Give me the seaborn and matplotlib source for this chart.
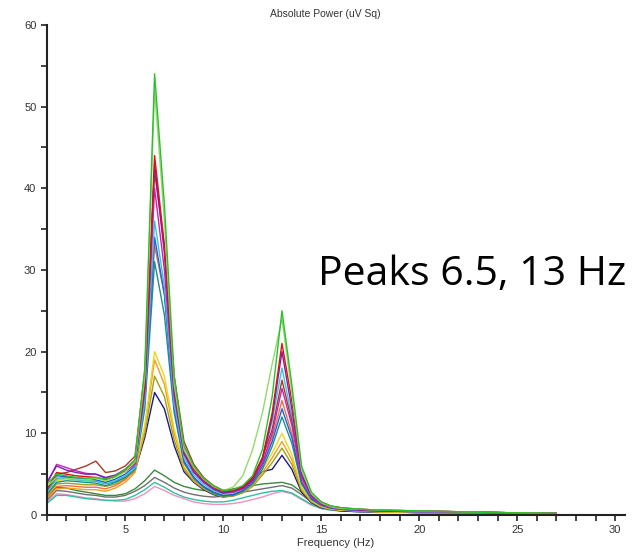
######################## EEG absolute power spectrum ########################

import matplotlib
matplotlib.use("Agg")
import matplotlib.pyplot as plt
from matplotlib.ticker import MultipleLocator
import pandas as pd
import seaborn as sns

####################### data #################################################

freq = [1, 1.5, 2, 2.5, 3, 3.5, 4, 4.5, 5, 5.5, 6, 6.5, 7, 7.5, 8, 8.5, 9, 9.5,
        10, 10.5, 11, 11.5, 12, 12.5, 13, 13.5, 14, 14.5, 15, 15.5, 16, 17, 18,
        20, 22, 24, 27]

ch01 = [3.8, 5.0, 4.8, 4.6, 4.5, 4.6, 4.4, 4.8, 5.6, 6.8, 18.0, 54.0, 38.0, 17.0, 8.5, 6.0, 4.5, 3.6,
        3.0, 3.1, 3.6, 4.8, 8.0, 14.5, 25.0, 16.0, 6.0, 2.8, 1.6, 1.1, 0.9, 0.7, 0.6, 0.5, 0.4, 0.3, 0.2]
ch02 = [3.5, 4.6, 4.5, 4.4, 4.3, 4.5, 4.2, 4.6, 5.3, 6.5, 17.0, 52.0, 36.0, 16.0, 8.0, 5.8, 4.4, 3.5,
        3.0, 3.4, 4.8, 8.0, 12.5, 18.5, 24.0, 15.0, 5.5, 2.6, 1.5, 1.0, 0.8, 0.7, 0.6, 0.5, 0.4, 0.3, 0.2]
ch03 = [3.2, 5.2, 5.0, 4.8, 4.7, 4.6, 4.3, 4.7, 5.4, 6.4, 16.0, 44.0, 33.0, 15.5, 8.0, 5.6, 4.3, 3.4,
        2.9, 3.0, 3.4, 4.5, 7.0, 12.5, 21.0, 14.0, 5.5, 2.6, 1.6, 1.1, 0.9, 0.7, 0.6, 0.5, 0.4, 0.3, 0.2]
ch04 = [4.0, 6.0, 5.5, 5.2, 5.0, 5.0, 4.6, 4.9, 5.6, 6.6, 15.5, 43.0, 32.0, 15.0, 7.6, 5.3, 4.1, 3.2,
        2.7, 2.9, 3.3, 4.3, 6.8, 12.0, 20.0, 13.0, 5.0, 2.4, 1.4, 1.0, 0.8, 0.6, 0.5, 0.5, 0.4, 0.3, 0.2]
ch05 = [3.8, 6.2, 5.8, 5.4, 5.1, 5.0, 4.5, 4.8, 5.3, 6.2, 15.0, 40.0, 30.0, 14.5, 7.4, 5.2, 4.0, 3.2,
        2.7, 2.8, 3.2, 4.2, 6.3, 10.0, 15.5, 11.0, 4.6, 2.2, 1.3, 0.9, 0.7, 0.6, 0.5, 0.4, 0.4, 0.3, 0.2]
ch06 = [3.0, 5.0, 5.2, 5.6, 6.0, 6.6, 5.2, 5.4, 6.0, 7.2, 17.5, 42.0, 33.0, 17.0, 9.0, 6.2, 4.6, 3.6,
        3.0, 3.1, 3.5, 4.6, 7.0, 10.5, 16.5, 11.5, 4.8, 2.4, 1.5, 1.0, 0.8, 0.7, 0.6, 0.5, 0.4, 0.3, 0.2]
ch07 = [2.8, 4.4, 4.5, 4.3, 4.2, 4.1, 3.8, 4.2, 4.8, 5.8, 14.0, 36.0, 28.0, 13.5, 7.0, 4.9, 3.8, 3.0,
        2.6, 2.7, 3.2, 4.3, 6.8, 11.5, 18.0, 12.0, 4.8, 2.3, 1.4, 1.0, 0.8, 0.6, 0.5, 0.4, 0.3, 0.3, 0.2]
ch08 = [3.0, 4.8, 4.7, 4.5, 4.4, 4.3, 4.0, 4.4, 5.0, 6.0, 14.0, 34.0, 27.0, 13.0, 6.6, 4.6, 3.5, 2.8,
        2.4, 2.5, 3.0, 4.0, 6.0, 9.0, 13.0, 9.5, 4.0, 2.0, 1.2, 0.9, 0.7, 0.6, 0.5, 0.4, 0.3, 0.3, 0.2]
ch09 = [2.5, 4.0, 4.2, 4.1, 4.0, 3.9, 3.6, 4.0, 4.6, 5.6, 13.0, 31.0, 24.5, 12.5, 6.4, 4.5, 3.4, 2.7,
        2.3, 2.4, 2.9, 3.8, 5.6, 8.4, 12.0, 8.8, 3.8, 1.9, 1.2, 0.8, 0.7, 0.5, 0.5, 0.4, 0.3, 0.2, 0.2]
ch10 = [2.2, 3.5, 3.6, 3.5, 3.4, 3.4, 3.2, 3.6, 4.3, 5.6, 14.0, 33.0, 27.0, 14.5, 7.8, 5.5, 4.2, 3.3,
        2.8, 2.9, 3.3, 4.4, 6.4, 9.5, 14.0, 10.0, 4.3, 2.1, 1.3, 0.9, 0.7, 0.6, 0.5, 0.4, 0.3, 0.3, 0.2]
ch11 = [2.6, 4.2, 4.4, 4.3, 4.2, 4.2, 3.9, 4.2, 4.8, 5.8, 11.0, 20.0, 17.0, 10.5, 6.2, 4.5, 3.5, 2.9,
        2.5, 2.6, 3.1, 4.0, 5.6, 7.6, 10.0, 7.4, 3.4, 1.8, 1.1, 0.8, 0.6, 0.5, 0.4, 0.4, 0.3, 0.2, 0.2]
ch12 = [2.0, 3.2, 3.3, 3.2, 3.1, 3.1, 2.9, 3.3, 4.0, 5.2, 10.5, 19.0, 16.0, 10.0, 5.8, 4.3, 3.3, 2.7,
        2.3, 2.4, 2.9, 3.7, 5.2, 7.0, 9.0, 6.8, 3.2, 1.7, 1.0, 0.7, 0.6, 0.5, 0.4, 0.3, 0.3, 0.2, 0.2]
ch13 = [2.4, 3.8, 3.9, 3.8, 3.7, 3.7, 3.5, 3.8, 4.4, 5.4, 10.0, 17.0, 14.5, 9.2, 5.6, 4.1, 3.2, 2.6,
        2.2, 2.3, 2.7, 3.5, 4.9, 6.4, 8.2, 6.2, 3.0, 1.6, 1.0, 0.7, 0.6, 0.5, 0.4, 0.3, 0.3, 0.2, 0.2]
ch14 = [2.8, 4.5, 4.6, 4.4, 4.3, 4.2, 3.9, 4.1, 4.6, 5.4, 9.5, 15.0, 13.0, 8.5, 5.3, 4.0, 3.1, 2.5,
        2.2, 2.4, 3.0, 4.2, 5.3, 5.6, 7.3, 5.6, 2.8, 1.5, 0.9, 0.7, 0.5, 0.4, 0.4, 0.3, 0.3, 0.2, 0.2]
ch15 = [2.0, 3.4, 3.3, 3.0, 2.8, 2.6, 2.4, 2.4, 2.6, 3.2, 4.2, 5.5, 4.8, 4.0, 3.5, 3.2, 3.0, 3.0,
        3.0, 3.2, 3.4, 3.6, 3.8, 3.9, 4.0, 3.7, 2.8, 1.8, 1.2, 0.9, 0.7, 0.6, 0.5, 0.4, 0.3, 0.3, 0.2]
ch16 = [1.8, 3.0, 2.9, 2.7, 2.5, 2.4, 2.2, 2.2, 2.4, 2.9, 3.6, 4.6, 4.0, 3.3, 2.8, 2.5, 2.3, 2.2,
        2.3, 2.5, 2.8, 3.0, 3.2, 3.4, 3.6, 3.3, 2.5, 1.6, 1.0, 0.7, 0.6, 0.5, 0.4, 0.3, 0.3, 0.2, 0.2]
ch17 = [1.4, 2.4, 2.4, 2.2, 2.0, 1.9, 1.8, 1.8, 1.9, 2.4, 3.1, 4.0, 3.4, 2.7, 2.2, 1.9, 1.7, 1.6,
        1.6, 1.8, 2.1, 2.4, 2.7, 2.9, 3.0, 2.7, 2.0, 1.3, 0.8, 0.6, 0.5, 0.4, 0.4, 0.3, 0.3, 0.2, 0.2]
ch18 = [1.6, 2.6, 2.5, 2.3, 2.1, 2.0, 1.8, 1.7, 1.7, 2.0, 2.6, 3.5, 3.0, 2.4, 2.0, 1.6, 1.4, 1.3,
        1.3, 1.4, 1.6, 1.9, 2.2, 2.6, 2.9, 2.6, 1.9, 1.2, 0.8, 0.6, 0.5, 0.4, 0.3, 0.3, 0.2, 0.2, 0.1]

channels = {"ch01": ch01, "ch02": ch02, "ch03": ch03, "ch04": ch04, "ch05": ch05,
            "ch06": ch06, "ch07": ch07, "ch08": ch08, "ch09": ch09, "ch10": ch10,
            "ch11": ch11, "ch12": ch12, "ch13": ch13, "ch14": ch14, "ch15": ch15,
            "ch16": ch16, "ch17": ch17, "ch18": ch18}

colors = {"ch01": "#2ebd2e", "ch02": "#8fdc6a", "ch03": "#e01010", "ch04": "#7a1fb8",
          "ch05": "#d020b0", "ch06": "#a83a2a", "ch07": "#30c8e0", "ch08": "#1f5fe0",
          "ch09": "#1a9090", "ch10": "#f07040", "ch11": "#e8d820", "ch12": "#f0a020",
          "ch13": "#a0a010", "ch14": "#1a1a8a", "ch15": "#3a8a3a", "ch16": "#707070",
          "ch17": "#30c0a0", "ch18": "#f090c0"}

# long format for seaborn
df = pd.concat([pd.DataFrame({"freq": freq, "power": vals, "channel": name})
                for name, vals in channels.items()], ignore_index=True)

####################### plot ##################################################

sns.set_style("ticks")
plt.rcParams["font.family"] = ["Liberation Sans", "DejaVu Sans"]

fig = plt.figure(figsize=(6.41, 5.52), dpi=100)
ax = fig.add_axes([0.073, 0.067, 0.902, 0.888])

# draw weaker channels first so the big peaks sit on top
order = list(channels.keys())[::-1]
sns.lineplot(data=df, x="freq", y="power", hue="channel", hue_order=order,
             palette=colors, estimator=None, linewidth=1.0, legend=False, ax=ax)

ax.set_xlim(1, 30.5)
ax.set_ylim(0, 60)
ax.xaxis.set_major_locator(MultipleLocator(5))
ax.xaxis.set_minor_locator(MultipleLocator(1))
ax.yaxis.set_major_locator(MultipleLocator(10))
ax.yaxis.set_minor_locator(MultipleLocator(5))
ax.tick_params(which="both", direction="out", width=1.2, colors="#222222",
               labelsize=8, labelcolor="#333333")
ax.tick_params(which="major", length=4)
ax.tick_params(which="minor", length=4)
for side in ["left", "bottom"]:
    ax.spines[side].set_linewidth(1.5)
    ax.spines[side].set_color("#222222")
sns.despine(ax=ax)

ax.set_xlabel("Frequency (Hz)", fontsize=8, color="#333333", labelpad=2)
ax.set_ylabel("")
fig.text(0.507, 0.975, "Absolute Power (uV Sq)", ha="center", va="center",
         fontsize=7.5, color="#333333")

fig.text(318 / 641, 1 - 285 / 552, "Peaks 6.5, 13 Hz", ha="left", va="baseline",
         fontsize=29.5, family="Open Sans", color="black")

fig.savefig("out.png", dpi=100)
